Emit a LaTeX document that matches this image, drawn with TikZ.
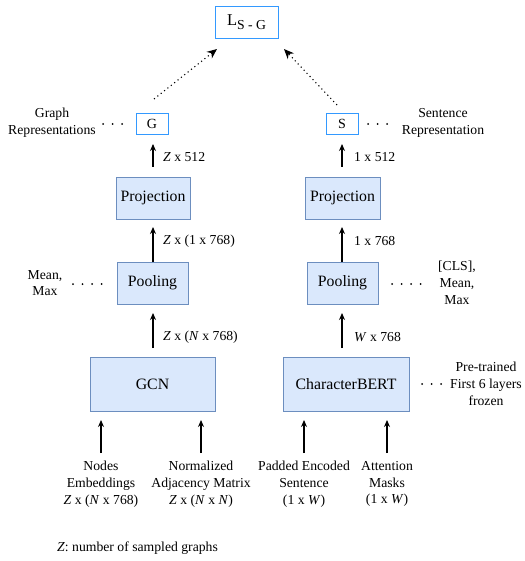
\documentclass[tikz,border=0pt]{standalone}
\usepackage{fontspec}
\setmainfont{Liberation Serif}
\usetikzlibrary{arrows.meta}
\definecolor{boxfill}{HTML}{DAE8FC}
\definecolor{boxdraw}{HTML}{6C8EBF}
\definecolor{outdraw}{HTML}{3399FF}
\begin{document}
\begin{tikzpicture}[x=1pt,y=-1pt,
 blk/.style={draw=boxdraw, fill=boxfill, line width=0.9pt, inner sep=0pt, font=\fontsize{15.8}{18}\selectfont},
 outbox/.style={draw=outdraw, fill=white, line width=0.9pt, inner sep=0pt, font=\fontsize{14}{16}\selectfont},
 lbl/.style={font=\fontsize{13.7}{16.8}\selectfont, inner sep=0pt, align=center},
 arr/.style={-{Stealth[length=7pt,width=6pt]}, line width=1.1pt},
 dotarr/.style={-{Stealth[length=10pt,width=8.5pt]}, line width=1.1pt, dash pattern=on 1.1pt off 3.2pt},
 dotrow/.style={line width=2pt, line cap=round, dash pattern=on 0pt off 9.5pt}]
\useasboundingbox (0,0) rectangle (524,561);

% output boxes
\node[outbox, minimum width=63pt, minimum height=32pt] (loss) at (246.5,22) {{\fontsize{16.5}{19}\selectfont L}\raisebox{-4pt}{\fontsize{13.7}{16}\selectfont S - G}};
\node[outbox, minimum width=32pt, minimum height=21pt] (G) at (152,123.5) {G};
\node[outbox, minimum width=32pt, minimum height=21pt] (S) at (342,123.5) {S};

% blocks
\node[blk, minimum width=74pt, minimum height=42pt] (projL) at (153,198) {Projection};
\node[blk, minimum width=75pt, minimum height=42pt] (projR) at (342.5,198) {Projection};
\node[blk, minimum width=71pt, minimum height=42pt] (poolL) at (152.5,283) {Pooling};
\node[blk, minimum width=71pt, minimum height=42pt] (poolR) at (342.5,283) {Pooling};
\node[blk, minimum width=125pt, minimum height=54pt] (gcn) at (152.5,384) {GCN};
\node[blk, minimum width=126pt, minimum height=54pt] (cbert) at (346,384) {CharacterBERT};

% side labels
\node[lbl] (grep) at (52,123) {Graph\\Representations};
\node[lbl] (srep) at (443,123) {Sentence\\Representation};
\node[lbl] (meanL) at (45,283) {Mean,\\Max};
\node[lbl] (meanR) at (457,283) {[CLS],\\Mean,\\Max};
\node[lbl] (pretr) at (486,384) {Pre-trained\\First 6 layers\\frozen};

% dot rows
\coordinate (d1a) at (103,124); \coordinate (d1b) at (123,124);
\coordinate (d2a) at (368,124); \coordinate (d2b) at (388,124);
\coordinate (d3a) at (73,284); \coordinate (d3b) at (102,284);
\coordinate (d4a) at (392,284); \coordinate (d4b) at (421,284);
\coordinate (d5a) at (422,384); \coordinate (d5b) at (442,384);
\draw[dotrow] (d1a) -- (d1b);
\draw[dotrow] (d2a) -- (d2b);
\draw[dotrow] (d3a) -- (d3b);
\draw[dotrow] (d4a) -- (d4b);
\draw[dotrow] (d5a) -- (d5b);

% dotted arrows to loss
\coordinate (ga) at (154,99); \coordinate (gb) at (217,49);
\coordinate (sa) at (337,105); \coordinate (sb) at (284,49);
\draw[dotarr] (ga) -- (gb);
\draw[dotarr] (sa) -- (sb);

% vertical arrows with dimension labels
\draw[arr] (153,167) -- (153,144);
\node[lbl, anchor=west] (l1) at (163,157) {\textit{Z} x 512};
\draw[arr] (342,167) -- (342,144);
\node[lbl, anchor=west] (r1) at (354,157) {1 x 512};

\draw[arr] (153,262) -- (153,227);
\node[lbl, anchor=west] (l2) at (163,241) {\textit{Z} x (1 x 768)};
\draw[arr] (342,262) -- (342,227);
\node[lbl, anchor=west] (r2) at (354,241) {1 x 768};

\draw[arr] (153,348) -- (153,313);
\node[lbl, anchor=west] (l3) at (163,337) {\textit{Z} x (\textit{N} x 768)};
\draw[arr] (342,348) -- (342,313);
\node[lbl, anchor=west] (r3) at (354,337) {\textit{W} x 768};

% inputs
\node[lbl, anchor=north] (in1) at (101,461) {Nodes\\Embeddings\\\textit{Z} x (\textit{N} x 768)};
\node[lbl, anchor=north] (in2) at (201,461) {Normalized\\Adjacency Matrix\\\textit{Z} x (\textit{N} x \textit{N})};
\node[lbl, anchor=north] (in3) at (304,461) {Padded Encoded\\Sentence\\(1 x \textit{W})};
\node[lbl, anchor=north] (in4) at (387,461) {Attention\\Masks\\(1 x \textit{W})};
\draw[arr] (in1.north) ++(0,-8) -- ++(0,-33);
\draw[arr] (in2.north) ++(0,-8) -- ++(0,-33);
\draw[arr] (in3.north) ++(0,-8) -- ++(0,-33);
\draw[arr] (in4.north) ++(0,-8) -- ++(0,-33);

\node[lbl, anchor=west] (foot) at (57,548) {\textit{Z}: number of sampled graphs};
\end{tikzpicture}
\end{document}
